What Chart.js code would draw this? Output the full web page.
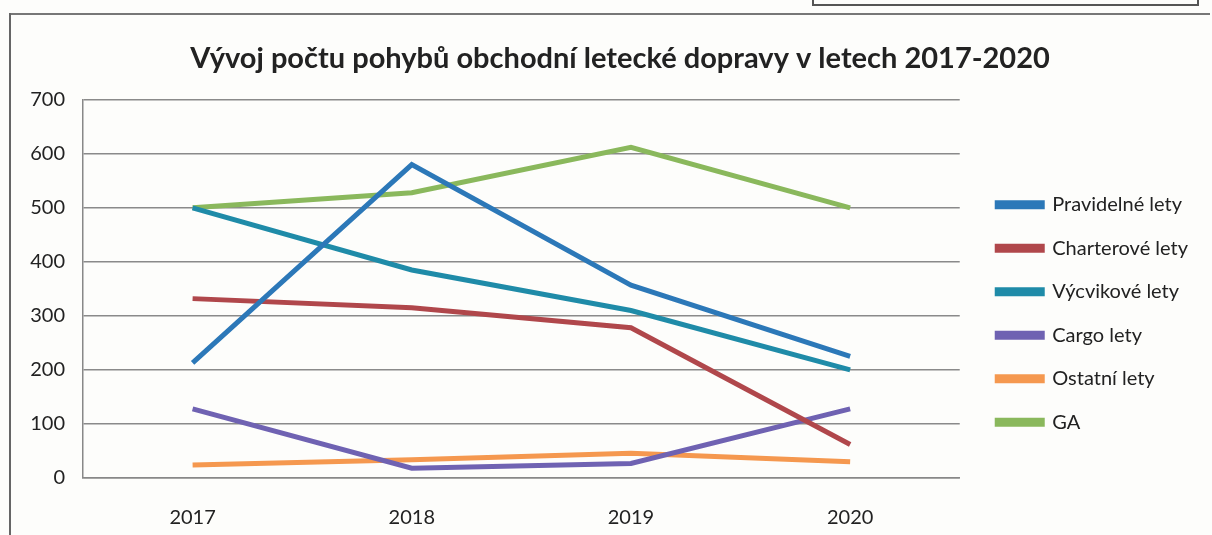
<!DOCTYPE html>
<html>
<head>
<meta charset="utf-8">
<script src="https://cdn.jsdelivr.net/npm/chart.js@4/dist/chart.umd.min.js"></script>
<style>
  html, body { margin: 0; padding: 0; background: #fdfdfb; }
  #wrap { position: relative; width: 1212px; height: 535px; overflow: hidden; }
  .frameTop { position: absolute; left: 10px; top: 13px; width: 1200px; height: 0; border-top: 2px solid #777; }
  .frameLeft { position: absolute; left: 9px; top: 13px; width: 0; height: 530px; border-left: 2px solid #666; }
  .boxTop { position: absolute; left: 812px; top: -4px; width: 383px; height: 6px; border: 2px solid #555; }
  #chart2 { position: absolute; left: 0; top: 0; }
</style>
</head>
<body>
<div id="wrap">
  <div class="boxTop"></div>
  <div class="frameTop"></div>
  <div class="frameLeft"></div>
  <canvas id="chart2" width="1212" height="535"></canvas>
</div>
<script>
const years = ["2017", "2018", "2019", "2020"];
const pravidelne = [213, 580, 357, 225];
const charterove = [332, 315, 278, 62];
const vycvikove = [500, 385, 310, 200];
const cargo = [128, 18, 27, 128];
const ostatni = [24, 34, 46, 30];
const ga = [500, 528, 612, 500];

const seriesNames = ["Pravidelné lety", "Charterové lety", "Výcvikové lety", "Cargo lety", "Ostatní lety", "GA"];
const seriesData = [pravidelne, charterove, vycvikove, cargo, ostatni, ga];
const seriesColors = ["#2c78b8", "#b0474b", "#1f8ba8", "#6f62b2", "#f5984f", "#8ab85c"];

// move the legend and title where the reference has them
const boxShift = {
  id: "boxShift",
  afterLayout(chart) {
    const lg = chart.legend;
    lg.left += 14; lg.right += 14;
    lg.top += 46; lg.bottom += 46;
    const tb = chart.titleBlock;
    tb.left += 28; tb.right += 28;
  }
};

var ctx2 = document.getElementById("chart2").getContext("2d");
var chart2 = new Chart(ctx2, {
  type: "line",
  data: {
    labels: years,
    datasets: seriesNames.map((name, i) => ({
      label: name,
      data: seriesData[i],
      borderColor: seriesColors[i],
      backgroundColor: seriesColors[i],
      borderWidth: 5,
      pointRadius: 0,
      tension: 0,
    })),
  },
  options: {
    responsive: false,
    animation: false,
    layout: { padding: { left: 0, right: 28, top: 0, bottom: 0 } },
    plugins: {
      title: {
        display: true,
        text: "Vývoj počtu pohybů obchodní letecké dopravy v letech 2017-2020",
        color: "#222",
        font: { family: "Lato", size: 29, weight: "bold" },
        padding: { top: 41, bottom: 24 },
      },
      legend: {
        position: "right",
        labels: {
          color: "#222",
          font: { family: "Lato", size: 20 },
          boxWidth: 45,
          boxHeight: 4,
          padding: 23.5,
        },
      },
      tooltip: { enabled: false },
    },
    scales: {
      x: {
        offset: true,
        grid: { display: false },
        border: { display: true, color: "#888", width: 1.5 },
        ticks: { color: "#222", font: { family: "Lato", size: 20 }, padding: 20 },
        afterFit: (s) => { s.height = 57; },
      },
      y: {
        min: 0,
        max: 700,
        ticks: { stepSize: 100, color: "#222", font: { family: "Lato", size: 20 }, padding: 18 },
        grid: { color: "#8a8a8a", lineWidth: 1.5, drawTicks: false },
        border: { display: true, color: "#888", width: 1.5 },
        afterFit: (s) => { s.width = 83; },
      },
    },
  },
  plugins: [boxShift],
});
</script>
</body>
</html>
